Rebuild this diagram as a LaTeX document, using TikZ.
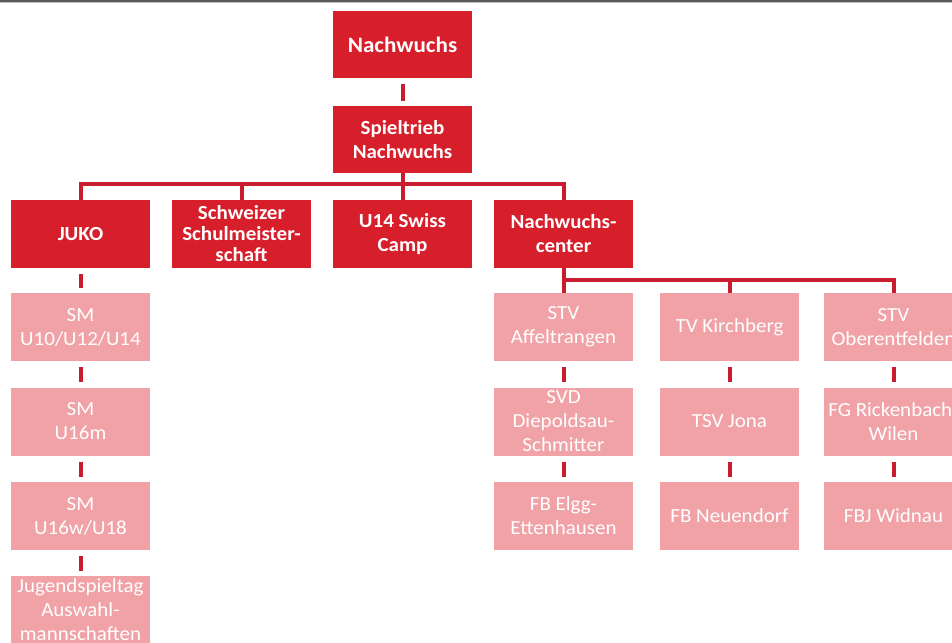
\documentclass[tikz,border=0pt]{standalone}
\usepackage{fontspec}
\setmainfont{Carlito}[FakeStretch=1.05]
\definecolor{boxred}{HTML}{D71E2B}
\definecolor{boxpink}{HTML}{F0A2A7}
\definecolor{linered}{HTML}{C81D2F}
\definecolor{topgray}{HTML}{5A5A5A}
\tikzset{
  redbox/.style={fill=boxred, text=white, minimum width=139pt, minimum height=68pt, inner sep=0pt, align=center, font=\bfseries\fontsize{20}{24}\selectfont},
  pinkbox/.style={fill=boxpink, text=white, minimum width=139pt, minimum height=68pt, inner sep=0pt, align=center, font=\fontsize{20}{24}\selectfont},
  conn/.style={draw=linered, line width=4pt, line join=miter},
  shortconn/.style={draw=linered, line width=4pt, shorten <=6pt, shorten >=5pt}
}
\begin{document}
\begin{tikzpicture}[x=1pt,y=-1pt]
\useasboundingbox (0,0) rectangle (952,642);
\clip (0,0) rectangle (952,642);
\fill[white] (0,0) rectangle (952,642);
\fill[topgray] (0,0) rectangle (952,2.4);
\fill[topgray!40] (0,2.4) rectangle (952,3.4);

% level 0 and 1
\node[redbox, minimum height=67pt, font=\bfseries\fontsize{22}{26}\selectfont] (top) at (402.5,44.5) {Nachwuchs};
\node[redbox, minimum height=67pt] (spiel) at (402.5,139.5) {Spieltrieb\\Nachwuchs};

% level 2
\node[redbox] (juko) at (80.5,234) {JUKO};
\node[redbox, font=\bfseries\fontsize{20}{21}\selectfont] (schw) at (241.5,234) {Schweizer\\Schulmeister-\\schaft};
\node[redbox] (u14) at (402.5,234) {U14 Swiss\\Camp};
\node[redbox] (nc) at (563.5,234) {Nachwuchs-\\center};

% JUKO column
\node[pinkbox] (sm1) at (80.5,327) {SM\\U10/U12/U14};
\node[pinkbox] (sm2) at (80.5,421.5) {SM\\U16m};
\node[pinkbox] (sm3) at (80.5,516) {SM\\U16w/U18};
\node[pinkbox] (jst) at (80.5,610) {Jugendspieltag\\Auswahl-\\mannschaften};

% Nachwuchscenter columns
\node[pinkbox] (stv1) at (563.5,327) {STV\\Affeltrangen};
\node[pinkbox] (svd) at (563.5,421.5) {SVD\\Diepoldsau-\\Schmitter};
\node[pinkbox] (fbe) at (563.5,516) {FB Elgg-\\Ettenhausen};
\node[pinkbox] (tvk) at (729.5,327) {TV Kirchberg};
\node[pinkbox] (tsv) at (729.5,421.5) {TSV Jona};
\node[pinkbox] (fbn) at (729.5,516) {FB Neuendorf};
\node[pinkbox] (stv3) at (893.5,327) {STV\\Oberentfelden};
\node[pinkbox] (fgr) at (893.5,421.5) {FG Rickenbach-\\Wilen};
\node[pinkbox] (fbj) at (893.5,516) {FBJ Widnau};

% connectors
\draw[shortconn] (top.south) -- (spiel.north);
\coordinate (b1) at (402.5,184);
\draw[conn] (spiel.south) -- (u14.north);
\draw[conn] (juko.north) |- (b1) -| (nc.north);
\draw[conn] (schw.north) -- (schw.north |- b1);

\coordinate (b2) at (729.5,280);
\draw[conn] (nc.south) -- (stv1.north);
\draw[conn] (nc.south |- b2) -| (stv3.north);
\draw[conn] (b2) -- (tvk.north);

\draw[shortconn] (sm1.south) -- (sm2.north);
\draw[shortconn] (sm2.south) -- (sm3.north);
\draw[shortconn] (sm3.south) -- (jst.north);
\draw[shortconn] (juko.south) -- (sm1.north);
\draw[shortconn] (stv1.south) -- (svd.north);
\draw[shortconn] (svd.south) -- (fbe.north);
\draw[shortconn] (tvk.south) -- (tsv.north);
\draw[shortconn] (tsv.south) -- (fbn.north);
\draw[shortconn] (stv3.south) -- (fgr.north);
\draw[shortconn] (fgr.south) -- (fbj.north);
\end{tikzpicture}
\end{document}
